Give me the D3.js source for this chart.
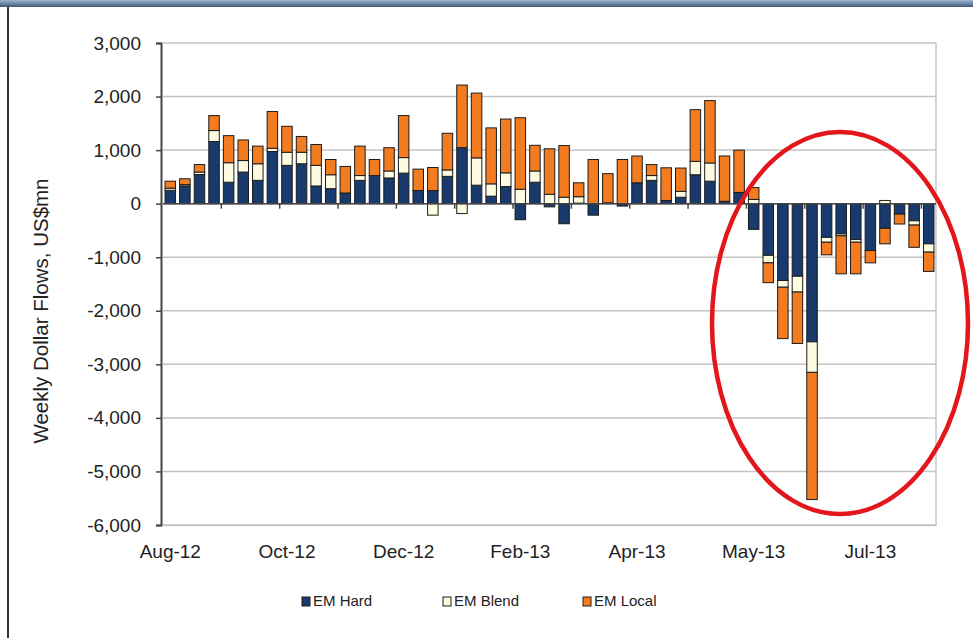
<!DOCTYPE html>
<html>
<head>
<meta charset="utf-8">
<title>EM weekly dollar flows</title>
<script src="https://cdn.jsdelivr.net/npm/d3@7"></script>
<style>
  body { margin: 0; background: #fff; }
  text { font-family: "Liberation Sans", Arial, sans-serif; fill: #222; }
</style>
</head>
<body>
<script>
// weekly flows, US$mn
const hard  = [250, 330, 545, 1160, 400, 590, 435, 975, 715, 745, 330, 280, 200, 435, 525, 480,
               570, 245, 245, 510, 1045, 345, 140, 320, -300, 400, -60, -375, 10, -215, 15, -45,
               390, 435, 60, 120, 540, 420, 45, 210, -480, -965, -1435, -1355, -2580, -630, -565, -670,
               -875, -460, -195, -320, -750];
const blend = [40, 25, 45, 205, 365, 215, 310, 60, 245, 215, 385, 260, 0, 90, 0, 130,
               290, 0, -215, 120, -185, 510, 230, 255, 270, 210, 175, 120, 120, 0, 0, 0,
               0, 90, 0, 110, 250, 340, 0, 0, 80, -140, -125, -295, -570, -90, -35, -50,
               0, 60, 0, -80, -155];
const local = [130, 110, 140, 280, 505, 385, 330, 685, 485, 295, 390, 285, 495, 550, 300, 435,
               785, 400, 430, 685, 1170, 1210, 1045, 1005, 1335, 480, 850, 965, 260, 825, 545, 825,
               500, 205, 610, 435, 965, 1165, 845, 790, 220, -370, -960, -960, -2375, -235, -710, -590,
               -230, -290, -185, -415, -360];

const seriesNames = ["EM Hard", "EM Blend", "EM Local"];
const colors = ["#193a6c", "#fdfbe0", "#f47c20"];

const tickIdx = [0, 8, 16, 24, 32, 40, 48];
const tickLabels = ["Aug-12", "Oct-12", "Dec-12", "Feb-13", "Apr-13", "May-13", "Jul-13"];
const yTicks = [3000, 2000, 1000, 0, -1000, -2000, -3000, -4000, -5000, -6000];

const W = 973, H = 638;
const plot = { left: 163, right: 936, top: 43, bottom: 525 };

const svg = d3.select("body").append("svg")
    .attr("width", W)
    .attr("height", H);

// frame of the slide
const grad = svg.append("defs").append("linearGradient")
    .attr("id", "topbar").attr("x1", 0).attr("y1", 0).attr("x2", 0).attr("y2", 1);
grad.append("stop").attr("offset", "0%").attr("stop-color", "#9fb6d0");
grad.append("stop").attr("offset", "100%").attr("stop-color", "#3e5a7a");
svg.append("rect").attr("x", 0).attr("y", 0).attr("width", W).attr("height", 7)
    .attr("fill", "url(#topbar)");
svg.append("line").attr("x1", 8).attr("x2", 8).attr("y1", 7).attr("y2", H)
    .attr("stroke", "#333").attr("stroke-width", 2);

// data table for the stack
const weeks = hard.map((d, i) => i);
const table = weeks.map(i => ({ week: i, "EM Hard": hard[i], "EM Blend": blend[i], "EM Local": local[i] }));

const stack = d3.stack()
    .keys(seriesNames)
    .offset(d3.stackOffsetDiverging);
const layers = stack(table);

const x = d3.scaleBand()
    .domain(weeks)
    .range([plot.left, plot.right])
    .paddingInner(0.28)
    .paddingOuter(0.14);

const y = d3.scaleLinear()
    .domain([-6000, 3000])
    .range([plot.bottom, plot.top]);

// gridlines
svg.append("g")
    .selectAll("line")
    .data(yTicks)
    .enter().append("line")
    .attr("x1", plot.left).attr("x2", plot.right)
    .attr("y1", d => y(d)).attr("y2", d => y(d))
    .attr("stroke", "#c4c4c4")
    .attr("stroke-width", 1.5);

svg.append("line")
    .attr("x1", plot.right).attr("x2", plot.right).attr("y1", y(3000)).attr("y2", y(-6000))
    .attr("stroke", "#c4c4c4").attr("stroke-width", 1.5);

// bars
svg.append("g")
    .selectAll("g")
    .data(layers)
    .enter().append("g")
    .attr("fill", (d, i) => colors[i])
    .selectAll("rect")
    .data(d => d)
    .enter().append("rect")
    .attr("x", d => x(d.data.week))
    .attr("width", x.bandwidth())
    .attr("y", d => y(Math.max(d[0], d[1])))
    .attr("height", d => Math.abs(y(d[0]) - y(d[1])))
    .attr("stroke", d => d[0] === d[1] ? "none" : "#1c1c1c")
    .attr("stroke-width", 1);

// y axis
const fmt = d3.format(",");
svg.append("g")
    .attr("transform", "translate(" + (plot.left - 2) + ",0)")
    .call(d3.axisLeft(y)
        .tickValues(yTicks)
        .tickSize(5)
        .tickPadding(15)
        .tickFormat(d => fmt(d).replace("\u2212", "-")))
    .call(g => g.select(".domain").attr("stroke", "#444").attr("stroke-width", 2))
    .call(g => g.selectAll(".tick line").attr("stroke", "#444").attr("stroke-width", 1.5))
    .call(g => g.selectAll("text").style("font-size", "19px").attr("fill", "#222"));

// category axis along zero
svg.append("line")
    .attr("x1", plot.left).attr("x2", plot.right).attr("y1", y(0)).attr("y2", y(0))
    .attr("stroke", "#444").attr("stroke-width", 1.5);

const step = x.step();
svg.append("g")
    .selectAll("line")
    .data(weeks.filter(i => i > 0 && i % 4 === 0))
    .enter().append("line")
    .attr("x1", i => x(i) - (step - x.bandwidth()) / 2)
    .attr("x2", i => x(i) - (step - x.bandwidth()) / 2)
    .attr("y1", y(0)).attr("y2", y(0) + 5)
    .attr("stroke", "#444").attr("stroke-width", 1.5);

svg.append("g")
    .attr("transform", "translate(0," + plot.bottom + ")")
    .call(d3.axisBottom(x)
        .tickValues(tickIdx)
        .tickSize(0)
        .tickPadding(20)
        .tickFormat((d, i) => tickLabels[i]))
    .call(g => g.select(".domain").attr("stroke", "#c4c4c4").attr("stroke-width", 1.5))
    .call(g => g.selectAll("text").style("font-size", "19px").attr("fill", "#222"));

// y title
svg.append("text")
    .attr("text-anchor", "middle")
    .attr("transform", "translate(48,311)rotate(-90)")
    .style("font-size", "20.5px")
    .text("Weekly Dollar Flows, US$mn");

// legend
const legendX = [302, 443, 583];
const legend = svg.append("g")
    .selectAll("g")
    .data(seriesNames)
    .enter().append("g")
    .attr("transform", (d, i) => "translate(" + legendX[i] + ",597)");
legend.append("rect")
    .attr("width", 8).attr("height", 9)
    .attr("fill", (d, i) => colors[i])
    .attr("stroke", "#1c1c1c");
legend.append("text")
    .attr("x", 11).attr("y", 9)
    .style("font-size", "15px")
    .text(d => d);

// red ring drawn on the slide
svg.append("ellipse")
    .attr("cx", 840).attr("cy", 323)
    .attr("rx", 128).attr("ry", 191)
    .attr("fill", "none")
    .attr("stroke", "#e3161b")
    .attr("stroke-width", 4.5);
</script>
</body>
</html>
